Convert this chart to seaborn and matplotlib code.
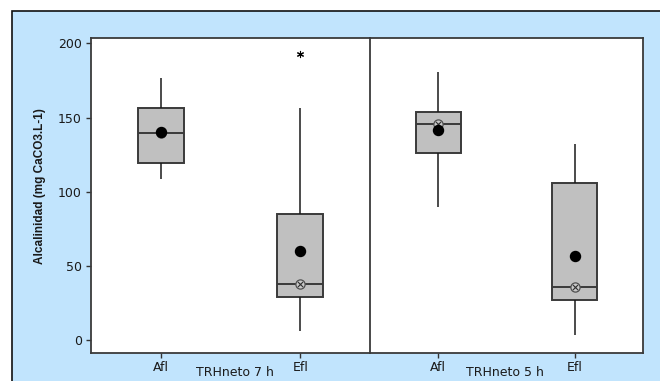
import numpy as np
import pandas as pd
import matplotlib
matplotlib.use("Agg")
import matplotlib.pyplot as plt
import seaborn as sns
from matplotlib.patches import Rectangle

# Groups and panels
groups = ["Afl", "Efl"]
panels = ["TRHneto 7 h", "TRHneto 5 h"]

# Five-number summaries per panel (rows) and group (columns)
whisker_low = [[108.4, 6.5], [89.6, 3.6]]
q1 = [[119.2, 29.4], [126.3, 27.3]]
median = [[139.4, 37.9], [145.6, 36.1]]
q3 = [[156.6, 85.0], [153.7, 105.7]]
whisker_high = [[176.8, 156.2], [180.5, 132.0]]
means = [[140.1, 60.1], [141.6, 56.8]]
outliers = [[[], [192.6]], [[], []]]

yticks = [0, 50, 100, 150, 200]
ylabel = "Alcalinidad (mg CaCO3.L-1)"

sns.set_style("ticks")
plt.rcParams["font.family"] = ["DejaVu Sans"]

W, H = 660, 381
fig = plt.figure(figsize=(W / 100, H / 100), dpi=100)
fig.patch.set_facecolor("white")

# light-blue panel behind the plot area
fig.patches.append(Rectangle((12 / W, -0.01), 1.02, 1 - 11 / H + 0.01,
                             transform=fig.transFigure, facecolor="#C1E4FD",
                             edgecolor="#111111", linewidth=1.2, zorder=-10))

left, right, top, bottom, split = 91, 643, 38, 353, 370
axes = [
    fig.add_axes([left / W, 1 - bottom / H, (split - left) / W, (bottom - top) / H]),
    fig.add_axes([split / W, 1 - bottom / H, (right - split) / W, (bottom - top) / H]),
]
axes[0].set_zorder(2)

edge = "#3A3A3A"
for p, ax in enumerate(axes):
    rows = []
    for g, name in enumerate(groups):
        for v in (whisker_low[p][g], q1[p][g], median[p][g], q3[p][g], whisker_high[p][g]):
            rows.append({"group": name, "value": v})
    df = pd.DataFrame(rows)
    sns.boxplot(data=df, x="group", y="value", order=groups, ax=ax,
                whis=(0, 100), width=0.33, color="#C0C0C0", linecolor=edge,
                linewidth=1.4, showcaps=False, fliersize=0, saturation=1,
                whiskerprops={"color": "#1A1A1A", "linewidth": 1.1},
                medianprops={"color": edge, "linewidth": 1.4})

    pos = np.arange(len(groups))
    # median symbol
    ax.scatter(pos, median[p], s=44, facecolors="#C8C8C8", edgecolors="#505050",
               linewidths=0.9, zorder=5)
    ax.scatter(pos, median[p], s=14, marker="x", color="#303030",
               linewidths=0.8, zorder=6)
    # mean symbol
    ax.scatter(pos, means[p], s=52, color="black", zorder=7)
    # outliers
    for g in range(len(groups)):
        if outliers[p][g]:
            ax.scatter([pos[g]] * len(outliers[p][g]), outliers[p][g], s=20,
                       marker=(6, 2, 0), color="black", linewidths=0.8, zorder=7)

    ax.set_xlim(-0.5, 1.5)
    ax.set_ylim(-8.5, 203.6)
    ax.set_facecolor("white")
    ax.set_xlabel("")
    ax.set_ylabel("")
    ax.tick_params(axis="x", length=3.5, width=1, color="#333333", labelsize=9,
                   pad=2, labelcolor="#1A1A1A")
    for s in ax.spines.values():
        s.set_visible(True)
        s.set_color("#3A3A3A")
        s.set_linewidth(1.3)

axes[0].set_yticks(yticks)
axes[0].tick_params(axis="y", length=3.5, width=1, color="#333333", labelsize=9,
                    pad=3, labelcolor="#1A1A1A")
axes[1].set_yticks([])
axes[1].spines["left"].set_visible(False)

fig.text(235 / W, 1 - 372.5 / H, panels[0], ha="center", va="center",
         fontsize=9, color="#1A1A1A")
fig.text(505 / W, 1 - 372.5 / H, panels[1], ha="center", va="center",
         fontsize=9, color="#1A1A1A")
fig.text(40.5 / W, 1 - 186 / H, ylabel, rotation=90, ha="center", va="center",
         fontsize=8.5, fontweight="bold",
         family=["Liberation Sans", "DejaVu Sans"], color="#1A1A1A")

fig.savefig("out.png", dpi=100)
